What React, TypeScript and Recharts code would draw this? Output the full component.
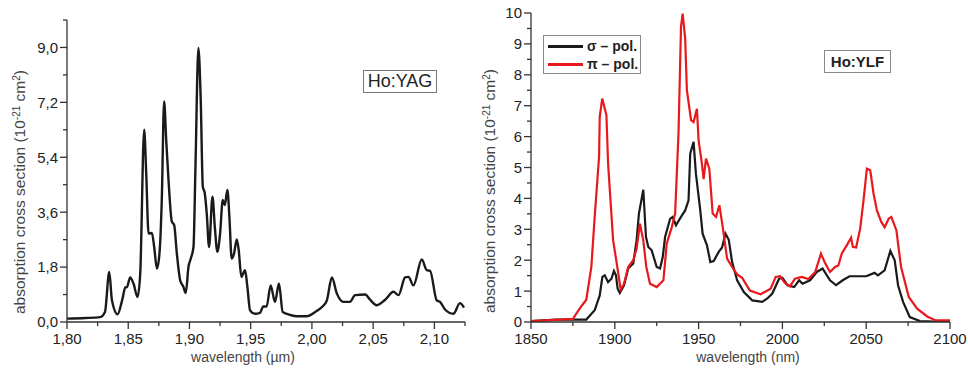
import React from "react";
import { LineChart, Line, XAxis, YAxis } from "recharts";

// Ho:YAG absorption (left panel), wavelength in µm
const YAG_WL = [
  1.8, 1.815, 1.827, 1.831, 1.8345, 1.8367, 1.8413, 1.845, 1.8476, 1.849, 1.8516, 1.8543, 1.8576,
  1.8598, 1.863, 1.8647, 1.8666, 1.8693, 1.8712, 1.8734, 1.8755, 1.8774, 1.8793, 1.881, 1.8829,
  1.8856, 1.8875, 1.8897, 1.8924, 1.8951, 1.897, 1.8992, 1.9011, 1.9033, 1.9049, 1.9073, 1.9092,
  1.9109, 1.9125, 1.9141, 1.916, 1.9188, 1.9207, 1.9228, 1.925, 1.9272, 1.9288, 1.931, 1.9326,
  1.9345, 1.9364, 1.9386, 1.9402, 1.9424, 1.9454, 1.9473, 1.9495, 1.9535, 1.9576, 1.9603, 1.963,
  1.9663, 1.9698, 1.9731, 1.9761, 1.9807, 1.9875, 1.9957, 2.0027, 2.0082, 2.0122, 2.0163, 2.0204,
  2.0258, 2.031, 2.0353, 2.0435, 2.0475, 2.053, 2.0598, 2.0666, 2.0707, 2.0761, 2.0788, 2.0829,
  2.0897, 2.0938, 2.0965, 2.1019, 2.1046, 2.1087, 2.1155, 2.1209, 2.1242,
];
const YAG_ABS = [
  0.11, 0.13, 0.16, 0.33, 1.64, 0.71, 0.25, 0.71, 1.13, 1.15, 1.46, 1.26, 0.82,
  1.59, 6.3, 4.87, 2.9, 2.92, 2.46, 1.75, 2.24, 4.0, 7.23, 5.97, 4.65,
  3.29, 3.18, 2.24, 1.37, 1.15, 0.95, 1.81, 2.08, 2.46, 5.09, 8.98, 7.28,
  4.44, 4.22, 3.56, 2.46, 4.11, 3.12, 2.3, 2.9, 4.0, 3.83, 4.33, 3.45,
  2.08, 2.24, 2.71, 2.36, 1.48, 1.7, 1.15, 0.38, 0.27, 0.3, 0.51, 0.51,
  1.2, 0.66, 1.26, 0.33, 0.25, 0.19, 0.19, 0.33, 0.49, 0.71, 1.46, 0.93,
  0.66, 0.66, 0.88, 0.9, 0.73, 0.55, 0.73, 0.99, 0.88, 1.46, 1.48, 1.2,
  2.05, 1.7, 1.68, 0.71, 0.66, 0.41, 0.27, 0.62, 0.47,
];

// Ho:YLF absorption (right panel), wavelength in nm
const SIGMA_WL = [
  1850, 1865, 1883, 1888, 1891, 1892.6, 1894, 1896, 1898, 1899.5, 1900.7, 1901.7, 1903, 1905.5,
  1908, 1911, 1913, 1914.4, 1917, 1918.6, 1920, 1922, 1925, 1927, 1928.6, 1930, 1933, 1934.5,
  1936.5, 1939.5, 1942, 1944, 1945, 1947, 1948.4, 1951, 1952.4, 1955, 1957, 1959, 1962, 1964,
  1966, 1968, 1970, 1973, 1977, 1982, 1988, 1991, 1994, 1998, 2000, 2003, 2007, 2010, 2012,
  2016.5, 2020.5, 2024, 2028.4, 2032, 2036, 2040, 2044, 2050, 2055, 2057, 2061, 2064.4, 2067,
  2069, 2072, 2076, 2082, 2100,
];
const SIGMA_ABS = [
  0.03, 0.08, 0.08, 0.38, 0.86, 1.46, 1.51, 1.29, 1.4, 1.65, 1.51, 1.08, 0.94, 1.19,
  1.73, 1.89, 2.64, 3.51, 4.28, 2.75, 2.43, 2.32, 1.78, 1.73, 2.1, 2.75, 3.34, 3.4,
  3.13, 3.4, 3.61, 3.94, 5.45, 5.83, 4.8, 3.61, 2.86, 2.48, 1.94, 1.97, 2.27, 2.41,
  2.86, 2.66, 1.94, 1.35, 0.97, 0.7, 0.65, 0.76, 0.92, 1.4, 1.43, 1.19, 1.13, 1.35, 1.24,
  1.35, 1.62, 1.73, 1.35, 1.19, 1.35, 1.48, 1.48, 1.48, 1.59, 1.51, 1.67, 2.3, 2.0,
  1.19, 0.65, 0.16, 0.03, 0.0,
];

const PI_WL = [
  1850, 1875, 1879, 1883, 1886, 1888, 1890.6, 1891, 1892.5, 1895, 1896, 1899, 1901.5, 1903.5,
  1905.5, 1908, 1911, 1913, 1915, 1917, 1918.8, 1921, 1925, 1929, 1931, 1934, 1936, 1938,
  1939.5, 1940.5, 1942, 1943, 1945.5, 1947, 1949, 1950, 1952, 1953, 1954.4, 1956.4, 1958.4,
  1960.4, 1962.4, 1964.4, 1967, 1970, 1973, 1976, 1980.6, 1987, 1993, 1996, 1998.6, 2001.5,
  2004.5, 2007.5, 2011.5, 2015.5, 2019.6, 2023, 2025.6, 2028.4, 2031.4, 2033.4, 2035.4, 2038.4,
  2041, 2042, 2044, 2046.4, 2048.4, 2050.4, 2052.4, 2054.4, 2056.4, 2059, 2061, 2063.4, 2065,
  2068, 2070.8, 2075.4, 2080.4, 2086.4, 2091.4, 2100,
];
const PI_ABS = [
  0.03, 0.1, 0.43, 0.72, 1.78, 3.4, 5.34, 6.63, 7.23, 6.69, 5.12, 2.64, 1.78, 1.05,
  1.24, 1.78, 2.0, 2.37, 3.18, 2.64, 1.78, 1.24, 1.13, 1.35, 2.54, 3.07, 3.51, 6.09,
  9.55, 9.98, 9.17, 7.5, 6.53, 6.47, 6.9, 5.88, 5.12, 4.62, 5.29, 4.96, 3.51,
  3.4, 3.78, 3.07, 2.05, 1.78, 1.54, 1.43, 1.02, 0.9, 1.08, 1.46, 1.48, 1.26,
  1.15, 1.4, 1.46, 1.39, 1.62, 2.21, 1.89, 1.62, 1.78, 1.83, 2.21, 2.48,
  2.73, 2.43, 2.41, 3.02, 3.94, 4.96, 4.91, 4.15, 3.61, 3.24, 3.07, 3.34, 3.4,
  2.97, 1.78, 0.81, 0.43, 0.18, 0.05, 0.05,
];

// axis ticks
const YAG_X_MAJOR = [1.8, 1.85, 1.9, 1.95, 2.0, 2.05, 2.1];
const YAG_X_MINOR = [1.825, 1.875, 1.925, 1.975, 2.025, 2.075, 2.125];
const YAG_Y_MAJOR = [0, 1.8, 3.6, 5.4, 7.2, 9.0];
const YAG_Y_MINOR = [0.9, 2.7, 4.5, 6.3, 8.1, 9.9];
const YLF_X_MAJOR = [1850, 1900, 1950, 2000, 2050, 2100];
const YLF_X_MINOR = [1875, 1925, 1975, 2025, 2075];
const YLF_Y_MAJOR = [0, 1, 2, 3, 4, 5, 6, 7, 8, 9, 10];
const YLF_Y_MINOR = [0.5, 1.5, 2.5, 3.5, 4.5, 5.5, 6.5, 7.5, 8.5, 9.5];

const FONT = '"Liberation Sans", Arial, sans-serif';
const AXIS = "#333";
const TICK_TXT = "#222";
const TITLE_TXT = "#444";

const yagData = YAG_WL.map((wl, i) => ({ wl, v: YAG_ABS[i] }));
const sigmaData = SIGMA_WL.map((wl, i) => ({ wl, v: SIGMA_ABS[i] }));
const piData = PI_WL.map((wl, i) => ({ wl, v: PI_ABS[i] }));

const isMajor = (list: number[], v: number) => list.some((m) => Math.abs(m - v) < 1e-6);

function makeXTick(major: number[], fmt: (v: number) => string) {
  return (props: any) => {
    const { x, y, payload } = props;
    const big = isMajor(major, payload.value);
    return (
      <g>
        <line x1={x} x2={x} y1={y} y2={y + (big ? 7 : 4)} stroke={AXIS} strokeWidth={1.3} />
        {big && (
          <text x={x} y={y + 22} textAnchor="middle" fontSize={15} fill={TICK_TXT} fontFamily={FONT}>
            {fmt(payload.value)}
          </text>
        )}
      </g>
    );
  };
}

function makeYTick(major: number[], fmt: (v: number) => string) {
  return (props: any) => {
    const { x, y, payload } = props;
    const big = isMajor(major, payload.value);
    return (
      <g>
        <line x1={x - (big ? 7 : 4)} x2={x} y1={y} y2={y} stroke={AXIS} strokeWidth={1.3} />
        {big && (
          <text x={x - 9} y={y} dy="0.36em" textAnchor="end" fontSize={15} fill={TICK_TXT} fontFamily={FONT}>
            {fmt(payload.value)}
          </text>
        )}
      </g>
    );
  };
}

// titles take their own position props (px, py) so Recharts' label props can't move them
const YTitle = ({ px, py }: { px: number; py: number }) => (
  <text
    x={px}
    y={py}
    transform={`rotate(-90, ${px}, ${py})`}
    textAnchor="middle"
    fontSize={15.5}
    fill={TITLE_TXT}
    fontFamily={FONT}
  >
    absorption cross section (10
    <tspan dy={-5} fontSize={10}>-21</tspan>
    <tspan dy={5}> cm</tspan>
    <tspan dy={-5} fontSize={10}>2</tspan>
    <tspan dy={5}>)</tspan>
  </text>
);

const XTitle = ({ px, text }: { px: number; text: string }) => (
  <text x={px} y={362} textAnchor="middle" fontSize={14} fill={TITLE_TXT} fontFamily={FONT}>
    {text}
  </text>
);

const comma = (d: number) => (v: number) => v.toFixed(d).replace(".", ",");

function YagPanel() {
  return (
    <div style={{ position: "absolute", left: 0, top: 0 }}>
      <LineChart width={480} height={368} margin={{ top: 20, right: 15, bottom: 16, left: 0 }}>
        <XAxis
          dataKey="wl"
          type="number"
          domain={[1.8, 2.125]}
          ticks={[...YAG_X_MAJOR, ...YAG_X_MINOR].sort((a, b) => a - b)}
          interval={0}
          tickSize={0}
          tickMargin={0}
          height={30}
          stroke={AXIS}
          strokeWidth={1.3}
          tickLine={false}
          tick={makeXTick(YAG_X_MAJOR, comma(2))}
          allowDataOverflow
          label={<XTitle px={243} text="wavelength (µm)" />}
        />
        <YAxis
          type="number"
          domain={[0, 9.9]}
          ticks={[...YAG_Y_MAJOR, ...YAG_Y_MINOR].sort((a, b) => a - b)}
          interval={0}
          tickSize={0}
          tickMargin={0}
          width={67}
          stroke={AXIS}
          strokeWidth={1.3}
          tickLine={false}
          tick={makeYTick(YAG_Y_MAJOR, comma(1))}
          allowDataOverflow
          label={<YTitle px={25} py={192} />}
        />
        <Line
          data={yagData}
          dataKey="v"
          type="monotone"
          stroke="#1a1a1a"
          strokeWidth={2.4}
          dot={false}
          isAnimationActive={false}
        />
      </LineChart>
      <div
        style={{
          position: "absolute",
          left: 363,
          top: 70,
          width: 72,
          height: 21,
          border: "1.5px solid #777",
          fontFamily: FONT,
          fontSize: 18,
          lineHeight: "21px",
          textAlign: "center",
          color: "#222",
          background: "#fff",
        }}
      >
        Ho:YAG
      </div>
    </div>
  );
}

function YlfPanel() {
  const legendRow = (color: string, label: string) => (
    <div style={{ display: "flex", alignItems: "center", height: 18 }}>
      <span style={{ display: "inline-block", width: 35, height: 3, background: color, marginRight: 4 }} />
      <span>{label}</span>
    </div>
  );
  return (
    <div style={{ position: "absolute", left: 480, top: 0 }}>
      <LineChart width={488} height={368} margin={{ top: 13, right: 18, bottom: 16, left: 0 }}>
        <XAxis
          dataKey="wl"
          type="number"
          domain={[1850, 2100]}
          ticks={[...YLF_X_MAJOR, ...YLF_X_MINOR].sort((a, b) => a - b)}
          interval={0}
          tickSize={0}
          tickMargin={0}
          height={30}
          stroke={AXIS}
          strokeWidth={1.3}
          tickLine={false}
          tick={makeXTick(YLF_X_MAJOR, (v) => String(v))}
          allowDataOverflow
          label={<XTitle px={268} text="wavelength (nm)" />}
        />
        <YAxis
          type="number"
          domain={[0, 10]}
          ticks={[...YLF_Y_MAJOR, ...YLF_Y_MINOR].sort((a, b) => a - b)}
          interval={0}
          tickSize={0}
          tickMargin={0}
          width={51}
          stroke={AXIS}
          strokeWidth={1.3}
          tickLine={false}
          tick={makeYTick(YLF_Y_MAJOR, (v) => String(v))}
          allowDataOverflow
          label={<YTitle px={15} py={191} />}
        />
        <Line
          data={sigmaData}
          dataKey="v"
          type="linear"
          stroke="#1a1a1a"
          strokeWidth={2.2}
          dot={false}
          isAnimationActive={false}
        />
        <Line
          data={piData}
          dataKey="v"
          type="linear"
          stroke="#e8191c"
          strokeWidth={2.2}
          dot={false}
          isAnimationActive={false}
        />
      </LineChart>
      <div
        style={{
          position: "absolute",
          left: 63,
          top: 35,
          width: 92,
          height: 36,
          border: "1.5px solid #888",
          background: "#fff",
          fontFamily: FONT,
          fontSize: 14,
          fontWeight: "bold",
          color: "#222",
          padding: "1px 0 0 4px",
          boxSizing: "content-box",
        }}
      >
        {legendRow("#1a1a1a", "σ – pol.")}
        {legendRow("#e8191c", "π – pol.")}
      </div>
      <div
        style={{
          position: "absolute",
          left: 344,
          top: 50,
          width: 65,
          height: 21,
          border: "1.5px solid #888",
          fontFamily: FONT,
          fontSize: 15,
          fontWeight: "bold",
          lineHeight: "21px",
          textAlign: "center",
          color: "#222",
          background: "#fff",
        }}
      >
        Ho:YLF
      </div>
    </div>
  );
}

export default function App() {
  return (
    <div style={{ position: "relative", width: 968, height: 368, background: "#fff" }}>
      <style>{"body{margin:0}"}</style>
      <YagPanel />
      <YlfPanel />
    </div>
  );
}
